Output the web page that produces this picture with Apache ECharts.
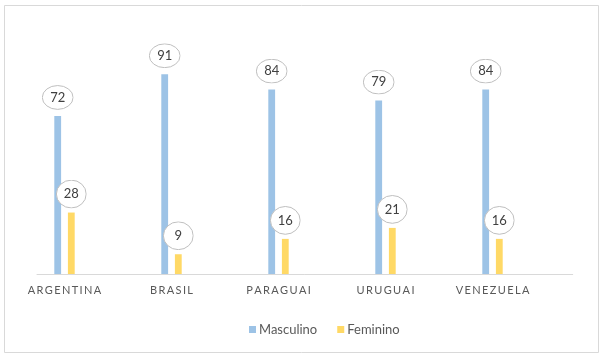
<!DOCTYPE html>
<html>
<head>
<meta charset="utf-8">
<script src="https://cdn.jsdelivr.net/npm/echarts@6/dist/echarts.min.js"></script>
<style>
html,body{margin:0;padding:0;background:#fff;}
#c{width:606px;height:359px;}
</style>
</head>
<body>
<div id="c"></div>
<script>
var categories = ['ARGENTINA', 'BRASIL', 'PARAGUAI', 'URUGUAI', 'VENEZUELA'];
var masculino = [72, 91, 84, 79, 84];
var feminino = [28, 9, 16, 21, 16];
var seriesNames = ['Masculino', 'Feminino'];

var chart = echarts.init(document.getElementById('c'), null, {renderer: 'canvas'});

function ellipseImg(w, h) {
  var svg = "<svg xmlns='http://www.w3.org/2000/svg' width='" + w + "' height='" + h + "'>" +
    "<ellipse cx='" + (w / 2) + "' cy='" + (h / 2) + "' rx='" + (w / 2 - 0.6) + "' ry='" + (h / 2 - 0.6) +
    "' fill='#ffffff' stroke='#bfbfbf' stroke-width='1'/></svg>";
  return 'data:image/svg+xml;charset=utf-8,' + encodeURIComponent(svg);
}

function bubble(w, h, dist) {
  var pv = (h - 15) / 2;
  return {
    show: true,
    position: 'top',
    distance: dist,
    formatter: '{c}',
    color: '#404040',
    fontSize: 13,
    fontFamily: 'Lato',
    backgroundColor: {image: ellipseImg(w, h)},
    width: w,
    lineHeight: 15,
    padding: [pv, 0, pv, 0],
    align: 'center'
  };
}

var option = {
  animation: false,
  backgroundColor: '#ffffff',
  graphic: [{
    type: 'rect',
    shape: {x: 4.5, y: 5.5, width: 594, height: 347},
    style: {fill: 'none', stroke: '#d9d9d9', lineWidth: 1},
    silent: true,
    z: -10
  }],
  legend: {
    data: seriesNames,
    top: 318,
    left: 244,
    itemWidth: 7,
    itemHeight: 7,
    itemGap: 20,
    icon: 'rect',
    textStyle: {color: '#595959', fontSize: 13, fontFamily: 'Lato', padding: [0, 0, 0, -2]}
  },
  grid: [
    {left: 11, width: 535, top: 54.5, height: 219.5},
    {left: 37, width: 535.7, top: 54.5, height: 219.5}
  ],
  xAxis: [
    {
      type: 'category', gridIndex: 0, data: categories,
      axisLine: {show: false}, axisTick: {show: false},
      axisLabel: {
        color: '#595959', fontSize: 11, fontFamily: 'Lato', margin: 11,
        formatter: function (v) { return v.split('').join('\u2009'); }
      }
    },
    {
      type: 'category', gridIndex: 1, data: categories,
      axisLine: {show: true, lineStyle: {color: '#d9d9d9', width: 1}},
      axisTick: {show: false}, axisLabel: {show: false}
    }
  ],
  yAxis: [
    {type: 'value', gridIndex: 0, min: 0, max: 100, show: false, splitLine: {show: false}},
    {type: 'value', gridIndex: 1, min: 0, max: 100, show: false, splitLine: {show: false}}
  ],
  series: [
    {
      name: seriesNames[0], type: 'bar', data: masculino,
      barWidth: 6.8, barGap: '100%',
      itemStyle: {color: '#9dc3e6'},
      label: bubble(32, 25, 6)
    },
    {
      name: seriesNames[1], type: 'bar', data: feminino,
      barWidth: 6.8, barGap: '100%',
      itemStyle: {color: '#ffd966'},
      label: bubble(31, 29, 4)
    }
  ]
};
chart.setOption(option);
</script>
</body>
</html>
